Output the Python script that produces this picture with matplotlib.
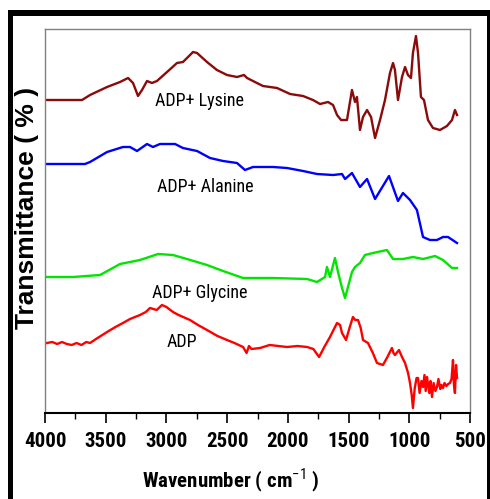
import matplotlib
matplotlib.use("Agg")
import matplotlib.pyplot as plt
from matplotlib.patches import Rectangle
from matplotlib.ticker import MultipleLocator

NARROW = ['Roboto Condensed', 'Liberation Sans', 'DejaVu Sans']
plt.rcParams['font.family'] = NARROW
plt.rcParams['mathtext.fontset'] = 'custom'
plt.rcParams['mathtext.rm'] = 'Roboto Condensed'

# ---------------- data (wavenumber cm^-1, transmittance a.u.) ----------------
lys_wn = [3984, 3695, 3629, 3489, 3382, 3316, 3275, 3234, 3201, 3160, 3119, 3078,
          2995, 2913, 2864, 2822, 2781, 2748, 2666, 2584, 2501, 2419, 2361, 2336,
          2271, 2205, 2089, 1982, 1875, 1793, 1735, 1669, 1628, 1595, 1562, 1513,
          1472, 1447, 1431, 1406, 1381, 1348, 1315, 1282, 1241, 1200, 1159, 1134,
          1118, 1093, 1060, 1035, 1011, 986, 970, 945, 928, 904, 879, 846, 805,
          747, 690, 648, 624, 607]
lys_t = [313, 313, 318, 326, 331, 335, 330, 317, 323, 332, 330, 332,
         341, 350, 351, 356, 361, 360, 351, 343, 338, 336, 338, 335,
         331, 327, 325, 319, 317, 313, 309, 311, 308, 298, 293, 293,
         323, 311, 316, 283, 296, 303, 296, 275, 293, 313, 340, 350,
         343, 313, 336, 346, 338, 335, 360, 377, 360, 316, 313, 293, 285,
         283, 287, 293, 303, 298]

ala_wn = [3984, 3671, 3629, 3489, 3358, 3300, 3242, 3160, 3111, 3053, 2929, 2864,
          2748, 2641, 2534, 2419, 2353, 2287, 2122, 2007, 1875, 1760, 1628, 1554,
          1529, 1472, 1406, 1348, 1282, 1167, 1093, 1052, 994, 937, 887, 830,
          772, 722, 681, 607]
ala_t = [249, 249, 251, 261, 266, 266, 262, 269, 266, 269, 269, 265,
         262, 255, 252, 250, 243, 246, 246, 245, 242, 239, 238, 239,
         234, 240, 226, 234, 214, 237, 212, 220, 213, 203, 176, 173,
         173, 176, 176, 170]

gly_wn = [3984, 3769, 3547, 3382, 3218, 3069, 2946, 2831, 2666, 2534, 2369, 2122,
          1842, 1760, 1694, 1678, 1653, 1612, 1587, 1554, 1529, 1505, 1472, 1447,
          1406, 1365, 1299, 1184, 1134, 1052, 970, 887, 788, 722, 648, 607]
gly_t = [136, 136, 138, 149, 153, 159, 158, 154, 148, 142, 135, 135,
         134, 131, 136, 146, 136, 155, 141, 125, 115, 126, 141, 146,
         150, 158, 160, 163, 154, 154, 156, 154, 157, 153, 145, 145]

adp_wn = [3984, 3940, 3900, 3860, 3820, 3780, 3740, 3700, 3660, 3629, 3580, 3489,
          3420, 3358, 3300, 3218, 3170, 3135, 3080, 3037, 3000, 2946, 2900, 2806,
          2740, 2666, 2580, 2501, 2440, 2369, 2340, 2320, 2300, 2229, 2150, 2007,
          1920, 1842, 1790, 1743, 1700, 1653, 1620, 1595, 1570, 1554, 1521, 1490,
          1464, 1445, 1422, 1400, 1381, 1340, 1300, 1266, 1217, 1180, 1143, 1130,
          1118, 1085, 1060, 1035, 1010, 994, 980, 970, 955, 940, 928, 915, 900,
          887, 875, 865, 854, 845, 835, 825, 813, 800, 785, 772, 760, 745, 735,
          722, 710, 695, 680, 665, 652, 640, 632, 624, 615, 607]
adp_t = [70, 71, 69, 71, 69, 68, 70, 68, 71, 70, 74, 81,
         86, 90, 94, 98, 101, 105, 103, 108, 106, 101, 98, 93,
         88, 83, 77, 73, 70, 66, 60, 67, 64, 65, 68, 66,
         67, 66, 64, 56, 66, 76, 84, 90, 88, 80, 73, 86,
         96, 93, 93, 85, 73, 70, 60, 50, 48, 56, 65, 60,
         58, 63, 56, 50, 40, 30, 18, 5, 25, 35, 35, 20, 32,
         26, 38, 22, 36, 28, 20, 32, 16, 30, 22, 26, 34, 24, 28,
         25, 30, 27, 29, 30, 34, 53, 28, 20, 48, 35]

series_labels = ["ADP+ Lysine", "ADP+ Alanine", "ADP+ Glycine", "ADP"]
label_wn = [2724, 2682, 2724, 2872]
label_t = [312, 226, 120, 71]
colors = ["#8B0A0A", "#0000FF", "#00E600", "#FF0000"]

xticks = [4000, 3500, 3000, 2500, 2000, 1500, 1000, 500]

# ---------------- figure ----------------
W, H = 490, 499
fig = plt.figure(figsize=(W / 100, H / 100), dpi=100)
fig.patch.set_facecolor("white")

def px_rect(x0, y0, x1, y1):
    return Rectangle((x0 / W, 1 - y1 / H), (x1 - x0) / W, (y1 - y0) / H,
                     transform=fig.transFigure, facecolor="black",
                     edgecolor="none", zorder=10)

fig.patches.append(px_rect(8, 10, 490, 16))
fig.patches.append(px_rect(8, 10, 13, 499))
fig.patches.append(px_rect(487, 10, 490, 499))

ax = fig.add_axes([45 / W, 1 - 413 / H, (470 - 45) / W, (413 - 29) / H])
ax.set_facecolor("white")

for wn, t, c in zip([lys_wn, ala_wn, gly_wn, adp_wn],
                    [lys_t, ala_t, gly_t, adp_t], colors):
    ax.plot(wn, t, color=c, lw=1.7, solid_joinstyle="round")

for lab, x, y in zip(series_labels, label_wn, label_t):
    ax.text(x, y, lab, ha="center", va="center", fontsize=13,
            color="black", family=NARROW)

ax.set_xlim(4000, 500)
ax.set_ylim(0, 384)
ax.set_xticks(xticks)
ax.xaxis.set_minor_locator(MultipleLocator(250))
ax.set_yticks([])
ax.tick_params(axis="x", which="major", direction="out", length=7.5, width=1.2,
               color="black", pad=6)
ax.tick_params(axis="x", which="minor", direction="out", length=4, width=1.0,
               color="black")
for lbl in ax.get_xticklabels():
    lbl.set_fontsize(15)
    lbl.set_fontweight("bold")
    lbl.set_family(NARROW)

for s in ["top", "left", "right"]:
    ax.spines[s].set_color("#808080")
    ax.spines[s].set_linewidth(1.0)
ax.spines["bottom"].set_color("black")
ax.spines["bottom"].set_linewidth(1.5)

fig.text(231 / W, 1 - 480 / H, r"Wavenumber ( cm$^{-1}$ )",
         ha="center", va="center", fontsize=15, fontweight=600, family=NARROW)
fig.text(27 / W, 1 - 208 / H, "Transmittance ( % )", rotation=90,
         ha="center", va="center", fontsize=19, fontweight="bold",
         family=['Liberation Sans', 'DejaVu Sans'])

fig.savefig("out.png", dpi=100, facecolor="white")
